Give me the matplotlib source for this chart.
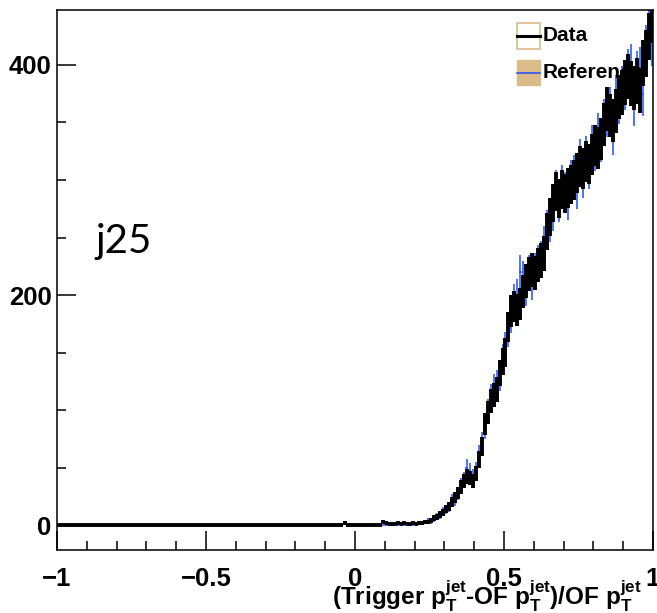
import numpy as np
import matplotlib
matplotlib.use("Agg")
import matplotlib.pyplot as plt
from matplotlib.patches import Rectangle
from matplotlib.ticker import MultipleLocator

plt.rcParams["font.family"] = ["Liberation Sans", "DejaVu Sans"]
plt.rcParams["font.weight"] = "bold"
plt.rcParams["mathtext.fontset"] = "custom"
plt.rcParams["mathtext.rm"] = "Liberation Sans:bold"
plt.rcParams["mathtext.it"] = "Liberation Sans:bold"
plt.rcParams["mathtext.bf"] = "Liberation Sans:bold"
plt.rcParams["axes.unicode_minus"] = True

# 200 bins of width 0.01 from -1 to 1
bin_edges = np.linspace(-1.0, 1.0, 201)

data_counts = [0] * 96 + [2, 0, 0, 0] + [
    0, 0, 0, 0, 0, 0, 0, 0, 0, 3,            # 0.00 - 0.09
    2, 1, 1, 1, 2, 1, 2, 1, 1, 2,            # 0.10 - 0.19
    1, 2, 2, 3, 3, 4, 6, 7, 9, 11,           # 0.20 - 0.29
    14, 16, 20, 24, 28, 33, 38, 42, 41, 38,  # 0.30 - 0.39
    45, 57, 68, 88, 98, 108, 113, 118, 132, 142,
    150, 172, 186, 190, 187, 192, 203, 212, 218, 222,
    219, 226, 230, 236, 255, 268, 280, 290, 284, 292,
    288, 293, 296, 300, 306, 312, 310, 316, 314, 322,
    330, 328, 336, 348, 362, 356, 352, 360, 372, 376,
    385, 390, 384, 380, 386, 378, 402, 410, 425, 440,
]

ref_counts = [0] * 100 + [
    0, 0, 0, 0, 0, 0, 0, 0, 0, 0,
    0, 0, 0, 0, 0, 0, 0, 0, 0, 0,
    0, 1, 2, 2, 4, 3, 5, 8, 8, 12,
    13, 15, 22, 21, 27, 35, 40, 50, 47, 42,
    48, 62, 72, 84, 100, 112, 120, 124, 128, 145,
    155, 168, 180, 196, 200, 220, 215, 205, 220, 210,
    222, 228, 232, 244, 258, 262, 272, 292, 280, 296,
    290, 282, 300, 304, 292, 318, 302, 320, 310, 330,
    326, 340, 334, 352, 356, 362, 340, 372, 368, 380,
    380, 394, 398, 366, 392, 396, 375, 414, 430, 420,
]

centers = 0.5 * (bin_edges[:-1] + bin_edges[1:])
half_w = 0.5 * (bin_edges[1] - bin_edges[0])
data = np.array(data_counts, dtype=float)
ref = np.array(ref_counts, dtype=float)

tan = "#dcbb8a"
blue = "#1f4cff"

fig = plt.figure(figsize=(6.57, 6.13), dpi=100)
ax = fig.add_axes([57 / 657, 63 / 613, 596 / 657, 540 / 613])

mask = centers > 0.095
ax.errorbar(centers[mask], ref[mask], xerr=half_w, yerr=np.sqrt(ref[mask]),
            fmt="none", ecolor=blue, elinewidth=1.1, capsize=0, zorder=2)
ax.errorbar(centers, data, xerr=half_w, yerr=np.sqrt(data), fmt="none",
            ecolor="black", elinewidth=2.8, capsize=0, zorder=3)

ax.set_xlim(-1, 1)
ax.set_ylim(-21.7, 447.8)
ax.xaxis.set_major_locator(MultipleLocator(0.5))
ax.xaxis.set_minor_locator(MultipleLocator(0.1))
ax.yaxis.set_major_locator(MultipleLocator(200))
ax.yaxis.set_minor_locator(MultipleLocator(50))
ax.xaxis.set_major_formatter(plt.FuncFormatter(
    lambda v, p: "\u22121" if v == -1 else ("\u22120.5" if v == -0.5 else f"{v:g}")))
ax.tick_params(which="both", direction="in", width=1.1, labelsize=18.5,
               top=False, right=False)
ax.tick_params(which="major", length=13.5)
ax.tick_params(which="minor", length=6.8)
ax.tick_params(axis="x", pad=12)
ax.tick_params(axis="y", pad=4)
for lab in ax.get_xticklabels() + ax.get_yticklabels():
    lab.set_fontweight("bold")
for sp in ax.spines.values():
    sp.set_linewidth(1.1)

# x axis title
ax.text(0.981, -0.053,
        r"(Trigger p$_{T}^{jet}$-OF p$_{T}^{jet}$)/OF p$_{T}^{jet}$",
        transform=ax.transAxes, ha="right", va="top", fontsize=17.5,
        fontweight="bold")

# legend
ax.add_patch(Rectangle((0.772, 0.928), 0.038, 0.048, transform=ax.transAxes,
                       facecolor="white", edgecolor=tan, linewidth=1.2,
                       clip_on=False, zorder=4))
ax.plot([0.772, 0.810], [0.952, 0.952], color="black", linewidth=2.2,
        transform=ax.transAxes, zorder=5)
ax.add_patch(Rectangle((0.772, 0.861), 0.038, 0.046, transform=ax.transAxes,
                       facecolor=tan, edgecolor=tan, linewidth=1.0,
                       clip_on=False, zorder=4))
ax.plot([0.772, 0.810], [0.884, 0.884], color=blue, linewidth=1.1,
        transform=ax.transAxes, zorder=5)
ax.text(0.815, 0.952, "Data", transform=ax.transAxes, ha="left",
        va="center", fontsize=15, fontweight="bold", zorder=6)
ax.text(0.815, 0.884, "Reference", transform=ax.transAxes, ha="left",
        va="center", fontsize=15, fontweight="bold", zorder=6)

fig.text(95 / 657, 1 - 242 / 613, "j25", family=["Lato", "DejaVu Sans"],
         fontsize=29, fontweight="normal", ha="left", va="center")

fig.savefig("out.png", dpi=100)
